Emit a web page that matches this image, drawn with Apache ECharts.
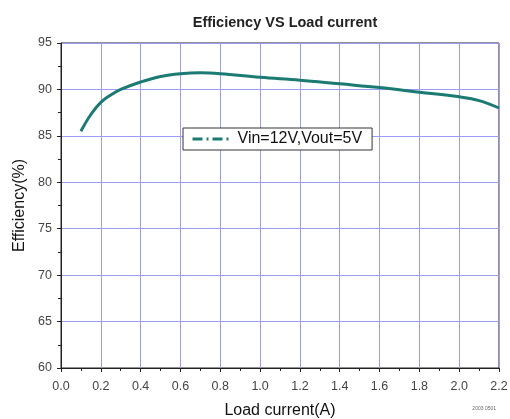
<!DOCTYPE html>
<html>
<head>
<meta charset="utf-8">
<script src="https://cdn.jsdelivr.net/npm/echarts@6/dist/echarts.min.js"></script>
<style>
  html, body { margin: 0; padding: 0; background: #fff; }
  #chart { width: 510px; height: 419px; }
</style>
</head>
<body>
<div id="chart"></div>
<script>
// load current (A) vs efficiency (%)
var loadCurrent = [0.1, 0.15, 0.2, 0.25, 0.3, 0.4, 0.5, 0.6, 0.7, 0.8, 1.0, 1.2, 1.4, 1.6, 1.8, 2.0, 2.1, 2.2];
var efficiency  = [85.5, 87.3, 88.6, 89.4, 90.0, 90.8, 91.4, 91.7, 91.8, 91.7, 91.3, 91.0, 90.6, 90.2, 89.7, 89.2, 88.8, 88.0];
var seriesName = 'Vin=12V,Vout=5V';

var chart = echarts.init(document.getElementById('chart'));

var points = [];
for (var i = 0; i < loadCurrent.length; i++) {
  points.push([loadCurrent[i], efficiency[i]]);
}

var axisText = { color: '#444', fontFamily: 'Liberation Sans', fontSize: 12.5 };

var option = {
  animation: false,
  title: {
    text: 'Efficiency VS Load current',
    left: 280,
    top: 10,
    textAlign: 'center',
    textStyle: { fontFamily: 'Liberation Sans', fontSize: 14.5, fontWeight: 'bold', color: '#222' }
  },
  graphic: [{
    type: 'text',
    right: 14,
    top: 406,
    style: { text: '2003 0501', fontSize: 5, fill: '#666', fontFamily: 'Liberation Sans' }
  }],
  legend: {
    show: true,
    orient: 'horizontal',
    left: 183,
    top: 128,
    padding: [3, 10, 3, 8],
    itemGap: 4,
    itemWidth: 40,
    itemHeight: 14,
    backgroundColor: '#fff',
    borderColor: '#333',
    borderWidth: 1,
    itemStyle: { opacity: 0 },
    lineStyle: { type: [10, 4, 2, 4], width: 3 },
    textStyle: { fontFamily: 'Liberation Sans', fontSize: 16, color: '#111', padding: [0, 0, 0, 0] }
  },
  grid: {
    left: 61, right: 11, top: 43, bottom: 51,
    outerBoundsMode: 'none',
    containLabel: false,
    show: true,
    borderColor: '#222',
    borderWidth: 1
  },
  xAxis: {
    type: 'value',
    min: 0, max: 2.2, interval: 0.2,
    name: 'Load current(A)',
    nameLocation: 'middle',
    nameGap: 35,
    nameTextStyle: { fontFamily: 'Liberation Sans', fontSize: 16, color: '#111' },
    axisLine: { lineStyle: { color: '#222' } },
    axisTick: { length: 4, lineStyle: { color: '#222' } },
    minorTick: { show: true, splitNumber: 2, length: 3, lineStyle: { color: '#222' } },
    axisLabel: Object.assign({ margin: 12, formatter: function (v) { return v.toFixed(1); } }, axisText),
    splitLine: { show: true, lineStyle: { color: '#9c9cf5', width: 1 } }
  },
  yAxis: {
    type: 'value',
    min: 60, max: 95, interval: 5,
    name: 'Efficiency(%)',
    nameLocation: 'middle',
    nameGap: 33,
    nameTextStyle: { fontFamily: 'Liberation Sans', fontSize: 16, color: '#111' },
    axisLine: { show: true, lineStyle: { color: '#222' } },
    axisTick: { show: true, length: 4, lineStyle: { color: '#222' } },
    minorTick: { show: true, splitNumber: 2, length: 3, lineStyle: { color: '#222' } },
    axisLabel: Object.assign({ margin: 9 }, axisText),
    splitLine: { show: true, lineStyle: { color: '#9c9cf5', width: 1 } }
  },
  series: [{
    name: seriesName,
    type: 'line',
    smooth: 0.4,
    symbol: 'none',
    data: points,
    color: '#1b7a72',
    lineStyle: { width: 3, color: '#1b7a72' },
    z: 5
  }]
};

chart.setOption(option);
</script>
</body>
</html>
